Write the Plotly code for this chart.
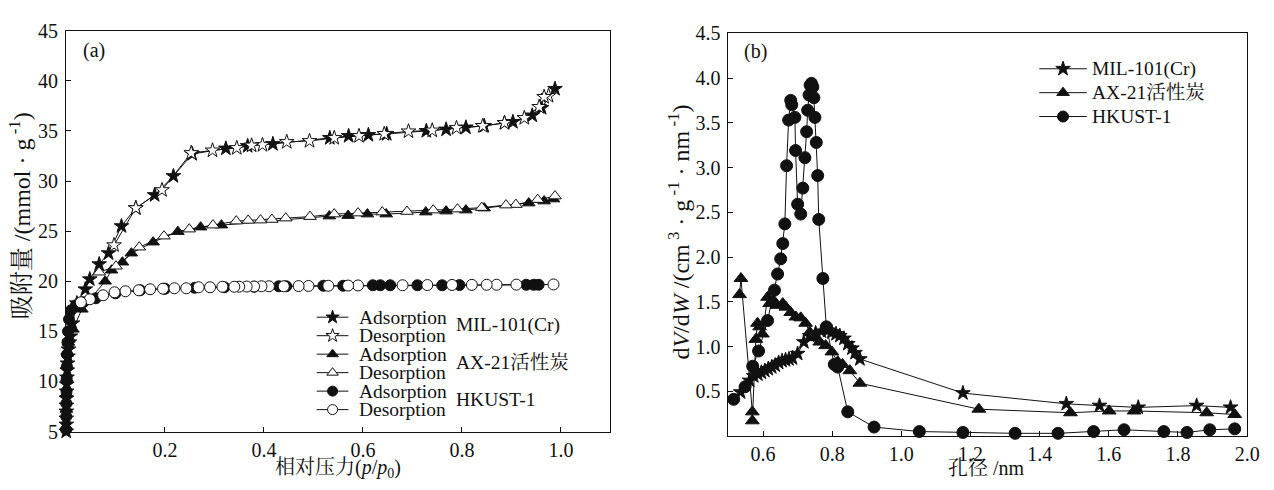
import plotly.graph_objects as go

# ---------------- (a) N2 adsorption / desorption isotherms ----------------
mil_ads_p = [0.0003, 0.0004, 0.0005, 0.0006, 0.0007, 0.0008, 0.001, 0.0012, 0.0015, 0.002,
             0.0025, 0.003, 0.004, 0.005, 0.007, 0.009, 0.013, 0.022, 0.039, 0.048, 0.067,
             0.086, 0.112, 0.141, 0.179, 0.217, 0.255, 0.323, 0.367, 0.418, 0.533, 0.571,
             0.611, 0.648, 0.728, 0.768, 0.808, 0.845, 0.886, 0.903, 0.942, 0.961, 0.988]
mil_ads_q = [4.4, 5.0, 5.7, 6.3, 7.0, 7.6, 8.3, 9.0, 9.7, 10.4,
             11.1, 11.8, 12.5, 13.2, 13.9, 14.5, 15.8, 17.8, 19.2, 20.2, 21.7,
             22.8, 25.5, 27.3, 28.6, 30.5, 32.7, 33.25, 33.5, 33.7, 34.3, 34.5,
             34.6, 34.7, 35.0, 35.15, 35.35, 35.5, 35.8, 35.9, 36.55, 37.3, 39.2]
mil_des_p = [0.975, 0.966, 0.956, 0.926, 0.886, 0.842, 0.789, 0.740, 0.692, 0.643, 0.592,
             0.542, 0.492, 0.446, 0.397, 0.375, 0.345, 0.296, 0.253, 0.194, 0.141, 0.097]
mil_des_q = [38.5, 38.4, 37.4, 36.3, 35.8, 35.5, 35.3, 35.05, 34.96, 34.7, 34.5,
             34.3, 34.0, 33.9, 33.6, 33.55, 33.3, 33.06, 32.8, 29.1, 27.3, 23.6]

ax_ads_p = [0.0005, 0.0008, 0.001, 0.0015, 0.002, 0.003, 0.005, 0.014, 0.032, 0.079,
            0.092, 0.114, 0.132, 0.176, 0.226, 0.272, 0.314, 0.532, 0.570, 0.609, 0.647,
            0.727, 0.768, 0.808, 0.845, 0.935, 0.966, 0.985]
ax_ads_q = [5.5, 7.2, 8.8, 10.3, 11.6, 12.8, 13.9, 15.2, 17.2, 20.0,
            21.1, 21.9, 22.8, 23.9, 24.95, 25.4, 25.6, 26.5, 26.55, 26.7, 26.7,
            26.9, 27.0, 27.1, 27.3, 27.8, 28.0, 28.2]
ax_des_p = [0.988, 0.953, 0.909, 0.889, 0.840, 0.791, 0.742, 0.689, 0.639, 0.590, 0.542,
            0.493, 0.444, 0.416, 0.393, 0.368, 0.344, 0.297, 0.249, 0.198, 0.148, 0.101, 0.067]
ax_des_q = [28.5, 28.15, 27.65, 27.6, 27.35, 27.2, 27.1, 26.96, 26.9, 26.8, 26.7,
            26.45, 26.3, 26.16, 26.1, 26.07, 26.0, 25.6, 25.2, 24.5, 23.4, 21.5, 20.9]

hk_ads_p = [0.0003, 0.0005, 0.0007, 0.001, 0.0013, 0.0017, 0.002, 0.003, 0.004, 0.006,
            0.010, 0.020, 0.035, 0.060, 0.100, 0.150, 0.200, 0.260, 0.320, 0.380, 0.430,
            0.445, 0.520, 0.560, 0.620, 0.635, 0.655, 0.710, 0.760, 0.795, 0.930, 0.945, 0.955]
hk_ads_q = [5.2, 6.5, 7.8, 9.0, 10.3, 11.5, 12.7, 13.9, 15.0, 16.2,
            17.1, 17.6, 17.9, 18.3, 18.8, 19.1, 19.25, 19.35, 19.4, 19.45, 19.5,
            19.5, 19.55, 19.55, 19.6, 19.6, 19.6, 19.6, 19.6, 19.62, 19.65, 19.65, 19.65]
hk_des_p = [0.985, 0.910, 0.870, 0.850, 0.820, 0.780, 0.730, 0.680, 0.590, 0.570, 0.530,
            0.490, 0.470, 0.440, 0.410, 0.395, 0.380, 0.365, 0.350, 0.340, 0.316, 0.291,
            0.268, 0.243, 0.219, 0.196, 0.170, 0.147, 0.120, 0.098, 0.075, 0.048, 0.030]
hk_des_q = [19.68, 19.66, 19.65, 19.65, 19.64, 19.63, 19.62, 19.6, 19.58, 19.57, 19.55,
            19.53, 19.52, 19.5, 19.5, 19.5, 19.48, 19.47, 19.46, 19.45, 19.45, 19.4,
            19.4, 19.3, 19.3, 19.26, 19.2, 19.1, 19.0, 18.9, 18.6, 18.2, 17.9]

# ---------------- (b) pore size distributions ----------------
mil_w = [0.535, 0.561, 0.573, 0.585, 0.595, 0.605, 0.615, 0.625, 0.635, 0.645, 0.655,
         0.665, 0.675, 0.685, 0.700, 0.718, 0.735, 0.752, 0.769, 0.787, 0.799, 0.811,
         0.822, 0.834, 0.845, 0.857, 0.866, 0.880, 1.178, 1.477, 1.573, 1.685, 1.854, 1.952]
mil_d = [0.49, 0.62, 0.67, 0.69, 0.71, 0.73, 0.75, 0.77, 0.79, 0.82, 0.84,
         0.85, 0.86, 0.87, 0.92, 1.05, 1.12, 1.15, 1.17, 1.18, 1.16, 1.14,
         1.12, 1.09, 1.03, 0.98, 0.93, 0.86, 0.48, 0.36, 0.34, 0.32, 0.34, 0.32]

ax_w = [0.532, 0.536, 0.569, 0.569, 0.579, 0.584, 0.590, 0.598, 0.613, 0.619, 0.631,
        0.640, 0.657, 0.666, 0.680, 0.695, 0.709, 0.723, 0.735, 0.752, 0.764, 0.781,
        0.799, 0.816, 0.830, 0.851, 0.880, 1.224, 1.489, 1.601, 1.673, 1.883, 1.964]
ax_d = [1.58, 1.76, 0.27, 0.17, 1.08, 1.26, 1.22, 1.14, 1.55, 1.48, 1.51,
        1.46, 1.48, 1.44, 1.38, 1.33, 1.32, 1.26, 1.16, 1.10, 1.05, 1.01,
        0.94, 0.83, 0.80, 0.73, 0.59, 0.30, 0.26, 0.28, 0.28, 0.26, 0.24]

hk_w = [0.515, 0.548, 0.570, 0.587, 0.613, 0.633, 0.642, 0.651, 0.657, 0.663, 0.668,
        0.674, 0.680, 0.683, 0.692, 0.694, 0.700, 0.709, 0.715, 0.721, 0.726, 0.729,
        0.733, 0.736, 0.740, 0.744, 0.747, 0.750, 0.754, 0.758, 0.761, 0.773, 0.783,
        0.806, 0.816, 0.845, 0.921, 1.052, 1.178, 1.329, 1.453, 1.556, 1.644, 1.759,
        1.826, 1.892, 1.964]
hk_d = [0.41, 0.55, 0.78, 0.95, 1.29, 1.63, 1.81, 1.98, 2.15, 2.37, 3.02,
        3.53, 3.75, 3.70, 3.56, 3.19, 2.59, 2.48, 2.77, 3.11, 3.40, 3.64,
        3.81, 3.92, 3.94, 3.90, 3.78, 3.56, 3.28, 2.91, 2.42, 1.76, 1.22,
        0.80, 0.77, 0.27, 0.10, 0.05, 0.04, 0.03, 0.03, 0.05, 0.07, 0.05,
        0.04, 0.07, 0.08]

# tick labels
a_xticks = [0.2, 0.4, 0.6, 0.8, 1.0]
a_yticks = [5, 10, 15, 20, 25, 30, 35, 40, 45]
b_xticks = [0.6, 0.8, 1.0, 1.2, 1.4, 1.6, 1.8, 2.0]
b_yticks = [0.5, 1.0, 1.5, 2.0, 2.5, 3.0, 3.5, 4.0, 4.5]

materials = ["MIL-101(Cr)", "AX-21活性炭", "HKUST-1"]
symbols = ["star", "triangle-up", "circle"]

# ---------------- layout geometry (pixels) ----------------
W, H = 1274, 490
FONT = "Liberation Serif, 'Noto Serif CJK SC', 'Noto Sans CJK SC', serif"
FS = 20
LEG_FS = 19.5
INK = "#111111"


def xdom(x0, x1):
    return [x0 / W, x1 / W]


def ydom(top, bottom):
    return [1 - bottom / H, 1 - top / H]


fig = go.Figure()

a_sizes = {"star": 11, "triangle-up": 11, "circle": 11}
b_sizes = {"star": 11, "triangle-up": 12, "circle": 12}


def add_series(x, y, sym, filled, xa, ya, sizes):
    fig.add_trace(go.Scatter(
        x=x, y=y, mode="lines+markers", xaxis=xa, yaxis=ya, showlegend=False,
        cliponaxis=False,
        line=dict(color=INK, width=1),
        marker=dict(symbol=sym, size=sizes[sym],
                    color=INK if filled else "white",
                    line=dict(color=INK, width=1)),
    ))


# panel (a)
add_series(mil_ads_p, mil_ads_q, "star", True, "x", "y", a_sizes)
add_series(mil_des_p, mil_des_q, "star", False, "x", "y", a_sizes)
add_series(ax_ads_p, ax_ads_q, "triangle-up", True, "x", "y", a_sizes)
add_series(ax_des_p, ax_des_q, "triangle-up", False, "x", "y", a_sizes)
add_series(hk_ads_p, hk_ads_q, "circle", True, "x", "y", a_sizes)
add_series(hk_des_p, hk_des_q, "circle", False, "x", "y", a_sizes)

# panel (b)
add_series(mil_w, mil_d, "star", True, "x2", "y2", b_sizes)
add_series(ax_w, ax_d, "triangle-up", True, "x2", "y2", b_sizes)
add_series(hk_w, hk_d, "circle", True, "x2", "y2", b_sizes)

# ---------------- hand-built legends on a pixel-space overlay ----------------
annotations = []


def legend_swatch(x0, x1, y, sym, filled, size):
    fig.add_trace(go.Scatter(
        x=[x0, x1], y=[y, y], mode="lines", xaxis="x3", yaxis="y3",
        showlegend=False, hoverinfo="skip", line=dict(color=INK, width=1)))
    fig.add_trace(go.Scatter(
        x=[(x0 + x1) / 2], y=[y], mode="markers", xaxis="x3", yaxis="y3",
        showlegend=False, hoverinfo="skip",
        marker=dict(symbol=sym, size=size, color=INK if filled else "white",
                    line=dict(color=INK, width=1))))


def text(x, y, s, anchor="left", angle=0, size=FS):
    annotations.append(dict(
        x=x, y=y, xref="x3", yref="y3", text=s, showarrow=False,
        xanchor=anchor, yanchor="middle", textangle=angle,
        font=dict(family=FONT, size=size, color=INK)))


# panel (a) legend: adsorption / desorption pairs with material labels
row0, row_step = 320.6, 19.35
for i, (name, sym) in enumerate(zip(materials, symbols)):
    for j, (label, filled) in enumerate([("Adsorption", True), ("Desorption", False)]):
        ry = row0 + row_step * (2 * i + j)
        legend_swatch(320, 352, ry, sym, filled, 10)
        text(361, ry, label, size=LEG_FS)
    text(459, row0 + row_step * (2 * i + 0.5) - 1, name, size=LEG_FS)

# panel (b) legend
for i, (name, sym) in enumerate(zip(materials, symbols)):
    ry = 60.5 + 25 * i
    legend_swatch(1050, 1098, ry, sym, True, 11)
    text(1101, ry, name, size=LEG_FS)

# panel tags and axis titles
text(82, 41, "(a)")
text(750, 42, "(b)")
text(341.7, 479, "相对压力(<i>p</i>/<i>p</i><sub>0</sub>)", anchor="center")
text(997, 479, "孔径 /nm", anchor="center")
text(21, 214, "吸附量 /(mmol · g<sup> -1</sup>)", anchor="center", angle=-90, size=24)
text(686, 232, "d<i>V</i>/d<i>W</i> /(cm<sup> 3</sup> · g<sup> -1</sup> · nm<sup> -1</sup>)",
     anchor="center", angle=-90, size=24)

axis_common = dict(
    showline=True, mirror=True, linecolor=INK, linewidth=1,
    ticks="inside", ticklen=5, tickwidth=1, tickcolor=INK,
    showgrid=False, zeroline=False,
    tickfont=dict(family=FONT, size=FS, color=INK),
)

fig.update_layout(
    width=W, height=H,
    margin=dict(l=0, r=0, t=0, b=0),
    paper_bgcolor="white", plot_bgcolor="rgba(0,0,0,0)",
    showlegend=False,
    font=dict(family=FONT, size=FS, color=INK),
    xaxis=dict(domain=xdom(66.7, 616.7), range=[0, 1.1], anchor="y",
               tickvals=a_xticks, ticktext=[f"{v:.1f}" for v in a_xticks], **axis_common),
    yaxis=dict(domain=ydom(20.7, 440.3), range=[5, 45], anchor="x", ticklabelstandoff=3,
               tickvals=a_yticks, ticktext=[str(v) for v in a_yticks], **axis_common),
    xaxis2=dict(domain=xdom(736, 1260), range=[0.5, 2.0], anchor="y2",
                tickvals=b_xticks, ticktext=[f"{v:.1f}" for v in b_xticks], **axis_common),
    yaxis2=dict(domain=ydom(23.3, 445), range=[0, 4.5], anchor="x2", ticklabelstandoff=3,
                tickvals=b_yticks, ticktext=[f"{v:.1f}" for v in b_yticks], **axis_common),
    xaxis3=dict(domain=[0, 1], range=[0, W], visible=False, anchor="y3", fixedrange=True),
    yaxis3=dict(domain=[0, 1], range=[H, 0], visible=False, anchor="x3", fixedrange=True),
    annotations=annotations,
)

fig.write_html("out.html")
